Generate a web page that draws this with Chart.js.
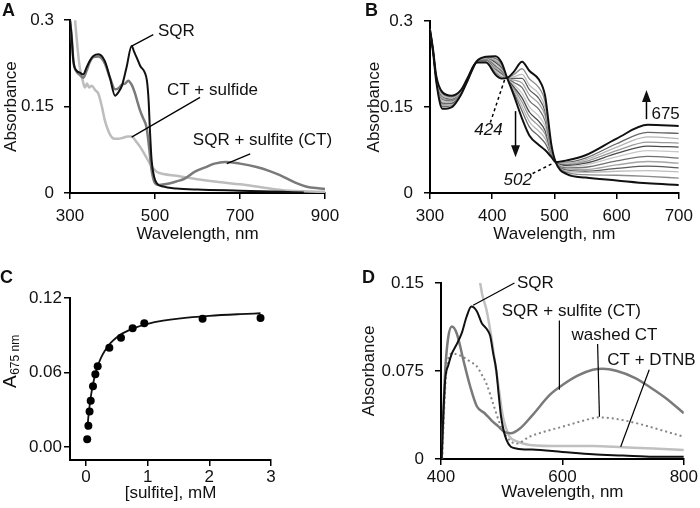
<!DOCTYPE html>
<html>
<head>
<meta charset="utf-8">
<script src="https://cdn.jsdelivr.net/npm/chart.js@4.4.1/dist/chart.umd.min.js"></script>
<style>
  html, body { margin: 0; padding: 0; background: #fff; }
  #wrap { position: relative; width: 700px; height: 508px; }
  canvas { position: absolute; }
</style>
</head>
<body>
<div id="wrap">
  <canvas id="chartA" width="350" height="254" style="left:0;top:0"></canvas>
  <canvas id="chartB" width="350" height="254" style="left:350px;top:0"></canvas>
  <canvas id="chartC" width="350" height="254" style="left:0;top:254px"></canvas>
  <canvas id="chartD" width="350" height="254" style="left:350px;top:254px"></canvas>
</div>
<script>
// -- DATA, panel A (spectra)
const wlA_sqr = [300, 304, 308, 316, 323, 331, 339, 347, 355, 367, 382, 394, 406, 414, 422, 433, 445, 451, 457, 465, 476, 481, 485, 488, 492, 498, 504, 520, 550, 600, 700, 800, 850];
const absA_sqr = [0.30, 0.27, 0.229, 0.212, 0.209, 0.206, 0.218, 0.230, 0.238, 0.241, 0.229, 0.200, 0.169, 0.175, 0.186, 0.218, 0.255, 0.245, 0.235, 0.221, 0.209, 0.195, 0.160, 0.110, 0.057, 0.028, 0.017, 0.011, 0.008, 0.006, 0.004, 0.002, 0.001];
const wlA_sulfite = [300, 304, 308, 316, 323, 331, 339, 347, 355, 367, 382, 394, 406, 414, 422, 430, 437, 445, 452, 460, 465, 472, 480, 486, 492, 500, 510, 530, 550, 570, 594, 620, 640, 665, 700, 739, 770, 794, 830, 857, 888, 900];
const absA_sulfite = [0.30, 0.27, 0.229, 0.210, 0.205, 0.200, 0.212, 0.228, 0.236, 0.237, 0.225, 0.200, 0.180, 0.182, 0.188, 0.190, 0.195, 0.188, 0.175, 0.155, 0.143, 0.130, 0.114, 0.080, 0.040, 0.017, 0.014, 0.016, 0.020, 0.025, 0.037, 0.045, 0.051, 0.054, 0.051, 0.045, 0.038, 0.031, 0.018, 0.011, 0.008, 0.007];
const wlA_sulfide = [312, 318, 323, 330, 335, 340, 345, 351, 360, 367, 375, 382, 390, 398, 406, 414, 425, 435, 445, 455, 465, 475, 488, 496, 504, 520, 550, 600, 650, 700, 750, 800, 850, 900];
const absA_sulfide = [0.300, 0.250, 0.218, 0.195, 0.183, 0.190, 0.183, 0.186, 0.178, 0.172, 0.150, 0.126, 0.108, 0.097, 0.094, 0.094, 0.096, 0.098, 0.098, 0.090, 0.080, 0.068, 0.051, 0.043, 0.037, 0.033, 0.030, 0.024, 0.019, 0.015, 0.010, 0.005, 0.003, 0.002];
const xTicksA = [300, 500, 700, 900];
const yTicksA = [0, 0.15, 0.3];
const yLabelsA = ['0', '0.15', '0.3'];

// -- DATA, panel B (sulfite titration, first = SQR, last = saturated)
const wlB = [300, 305, 310, 320, 335, 350, 360, 375, 390, 405, 415, 424, 435, 448, 460, 475, 485, 495, 502, 520, 550, 600, 650, 700];
const bS  = [0.285,0.250,0.205,0.176,0.170,0.180,0.200,0.228,0.228,0.207,0.200,0.201,0.212,0.229,0.213,0.198,0.170,0.085,0.054,0.033,0.027,0.022,0.017,0.014];
const b1  = [0.285,0.249,0.204,0.173,0.168,0.179,0.199,0.228,0.229,0.211,0.203,0.201,0.207,0.217,0.199,0.184,0.159,0.082,0.054,0.036,0.032,0.031,0.029,0.026];
const b2  = [0.285,0.249,0.203,0.170,0.166,0.178,0.199,0.228,0.230,0.214,0.206,0.201,0.203,0.207,0.188,0.173,0.149,0.080,0.054,0.038,0.036,0.038,0.039,0.037];
const b3  = [0.285,0.249,0.202,0.168,0.164,0.178,0.199,0.229,0.231,0.216,0.208,0.201,0.200,0.200,0.180,0.165,0.142,0.079,0.054,0.040,0.038,0.043,0.047,0.044];
const b4  = [0.285,0.248,0.201,0.165,0.163,0.177,0.198,0.229,0.232,0.219,0.210,0.201,0.197,0.192,0.171,0.156,0.135,0.077,0.054,0.042,0.041,0.049,0.055,0.052];
const b5  = [0.285,0.248,0.200,0.163,0.161,0.176,0.198,0.229,0.233,0.222,0.213,0.201,0.193,0.184,0.161,0.146,0.126,0.075,0.054,0.044,0.045,0.056,0.064,0.061];
const b6  = [0.285,0.247,0.199,0.160,0.159,0.176,0.197,0.229,0.234,0.225,0.216,0.201,0.189,0.174,0.150,0.134,0.117,0.073,0.054,0.046,0.049,0.063,0.074,0.072];
const b7  = [0.285,0.247,0.199,0.157,0.157,0.175,0.197,0.229,0.234,0.228,0.218,0.201,0.185,0.166,0.141,0.125,0.109,0.071,0.054,0.048,0.052,0.069,0.082,0.080];
const b8  = [0.285,0.246,0.198,0.155,0.156,0.174,0.196,0.229,0.235,0.230,0.220,0.201,0.182,0.159,0.133,0.117,0.103,0.069,0.054,0.050,0.055,0.074,0.089,0.087];
const b9  = [0.285,0.246,0.197,0.153,0.154,0.174,0.196,0.230,0.236,0.232,0.222,0.201,0.179,0.151,0.124,0.108,0.095,0.068,0.054,0.052,0.058,0.080,0.098,0.095];
const b10 = [0.285,0.246,0.196,0.151,0.153,0.173,0.196,0.230,0.237,0.235,0.224,0.201,0.176,0.143,0.115,0.099,0.087,0.066,0.054,0.054,0.061,0.086,0.106,0.104];
const bE  = [0.285,0.245,0.195,0.147,0.150,0.172,0.195,0.230,0.238,0.239,0.228,0.201,0.170,0.130,0.100,0.084,0.075,0.063,0.054,0.057,0.066,0.095,0.119,0.117];
const xTicksB = [300, 400, 500, 600, 700];
const yTicksB = [0, 0.15, 0.3];
const yLabelsB = ['0', '0.15', '0.3'];

// -- DATA, panel C (A675 vs sulfite)
const sulfite = [0.019, 0.038, 0.057, 0.076, 0.113, 0.151, 0.189, 0.378, 0.567, 0.756, 0.945, 1.89, 2.83];
const a675 = [0.0062, 0.017, 0.0285, 0.0373, 0.049, 0.0585, 0.065, 0.080, 0.088, 0.0956, 0.0996, 0.1033, 0.1039];
const fitX = [0.02, 0.04, 0.06, 0.08, 0.1, 0.13, 0.16, 0.2, 0.25, 0.3, 0.4, 0.5, 0.6, 0.8, 1.0, 1.25, 1.5, 2.0, 2.5, 2.83];
const fitY = [0.0142, 0.0252, 0.0340, 0.0412, 0.0472, 0.0545, 0.0604, 0.0666, 0.0725, 0.0771, 0.0838, 0.0884, 0.0917, 0.0962, 0.0992, 0.1017, 0.1034, 0.1056, 0.1070, 0.1077];
const xTicksC = [0, 1, 2, 3];
const yTicksC = [0, 0.06, 0.12];
const yLabelsC = ['0.00', '0.06', '0.12'];

// -- DATA, panel D
const wlD_sqr = [401, 404, 407, 412, 418, 425, 434, 442, 450, 459, 467, 475, 481, 486, 491, 495, 499, 508, 524, 550, 600, 650, 700, 750, 800];
const absD_sqr = [0, 0.040, 0.068, 0.080, 0.090, 0.097, 0.107, 0.121, 0.130, 0.126, 0.116, 0.111, 0.105, 0.090, 0.076, 0.055, 0.036, 0.016, 0.009, 0.008, 0.006, 0.004, 0.003, 0.002, 0.002];
const wlD_sulfite = [401, 404, 407, 412, 418, 426, 437, 448, 459, 472, 483, 494, 505, 515, 530, 550, 580, 600, 625, 650, 666, 690, 720, 745, 770, 800];
const absD_sulfite = [0, 0.040, 0.076, 0.104, 0.113, 0.107, 0.084, 0.062, 0.045, 0.039, 0.033, 0.028, 0.023, 0.022, 0.026, 0.037, 0.055, 0.063, 0.071, 0.076, 0.077, 0.075, 0.069, 0.061, 0.052, 0.039];
const wlD_washed = [402, 405, 408, 412, 418, 428, 436, 448, 459, 467, 475, 486, 497, 508, 524, 546, 575, 600, 630, 661, 690, 726, 760, 800];
const absD_washed = [0, 0.040, 0.070, 0.085, 0.090, 0.089, 0.087, 0.083, 0.079, 0.072, 0.064, 0.047, 0.030, 0.019, 0.013, 0.019, 0.024, 0.0275, 0.032, 0.0355, 0.034, 0.030, 0.025, 0.019];
const wlD_dtnb = [463, 468, 475, 481, 486, 490, 494, 502, 508, 513, 525, 546, 600, 650, 700, 750, 800];
const absD_dtnb = [0.155, 0.140, 0.127, 0.110, 0.093, 0.078, 0.0645, 0.036, 0.025, 0.019, 0.015, 0.012, 0.011, 0.011, 0.010, 0.009, 0.0077];
const xTicksD = [400, 600, 800];
const yTicksD = [0, 0.075, 0.15];
const yLabelsD = ['0', '0.075', '0.15'];

const FONT = '"Liberation Sans", Arial, Helvetica, sans-serif';
Chart.defaults.font.family = FONT;
Chart.defaults.font.size = 17;
Chart.defaults.color = '#111';

function pts(xs, ys) {
    return xs.map((x, i) => ({ x: x, y: ys[i] }));
}

function line(xs, ys, color, width, dash) {
    return {
        data: pts(xs, ys),
        borderColor: color,
        borderWidth: width,
        borderDash: dash || [],
        pointRadius: 0,
        fill: false,
        cubicInterpolationMode: 'monotone'
    };
}

function xAxis(min, max, ticks, labels, height, tickPad, title, titlePad) {
    return {
        type: 'linear', min: min, max: max,
        border: { display: true, color: '#000', width: 2 },
        grid: { drawOnChartArea: false, drawTicks: true, tickLength: 6, color: '#000', lineWidth: 1.5 },
        ticks: { padding: tickPad, color: '#111', maxRotation: 0, autoSkip: false, callback: (v, i) => labels[i] },
        afterBuildTicks: s => { s.ticks = ticks.map(v => ({ value: v })); },
        afterFit: s => { s.height = height; },
        title: { display: true, text: title, color: '#111', padding: { top: 0, bottom: titlePad } }
    };
}

function yAxis(min, max, ticks, labels, width, tickPad, title, titlePad) {
    return {
        type: 'linear', min: min, max: max,
        border: { display: true, color: '#000', width: 2 },
        grid: { drawOnChartArea: false, drawTicks: true, tickLength: 6, color: '#000', lineWidth: 1.5 },
        ticks: { padding: tickPad, color: '#111', autoSkip: false, callback: (v, i) => labels[i] },
        afterBuildTicks: s => { s.ticks = ticks.map(v => ({ value: v })); },
        afterFit: s => { s.width = width; },
        title: { display: !!title, text: title, color: '#111', padding: { top: titlePad, bottom: 0 } }
    };
}

// -- ANNOTATIONS (labels, leader lines, arrows) in data units
const annotate = {
    id: 'annotate',
    afterDatasetsDraw(chart, args, o) {
        const ctx = chart.ctx;
        const px = v => chart.scales.x.getPixelForValue(v);
        const py = v => chart.scales.y.getPixelForValue(v);
        ctx.save();
        ctx.fillStyle = '#111';
        ctx.strokeStyle = '#000';
        (o.lines || []).forEach(l => {
            ctx.beginPath();
            ctx.lineWidth = l.width || 1.2;
            ctx.setLineDash(l.dash || []);
            ctx.moveTo(px(l.from[0]), py(l.from[1]));
            ctx.lineTo(px(l.to[0]), py(l.to[1]));
            ctx.stroke();
        });
        ctx.setLineDash([]);
        (o.arrows || []).forEach(a => {
            const x = px(a.x), y1 = py(a.from), y2 = py(a.to);
            const dir = y2 > y1 ? 1 : -1;
            ctx.beginPath();
            ctx.lineWidth = 1.5;
            ctx.moveTo(x, y1);
            ctx.lineTo(x, y2 - dir * 10);
            ctx.stroke();
            ctx.beginPath();
            ctx.moveTo(x, y2);
            ctx.lineTo(x - 4.5, y2 - dir * 12);
            ctx.lineTo(x + 4.5, y2 - dir * 12);
            ctx.closePath();
            ctx.fill();
        });
        (o.texts || []).forEach(t => {
            ctx.font = (t.italic ? 'italic ' : '') + '17px ' + FONT;
            ctx.textAlign = t.align || 'left';
            ctx.textBaseline = 'middle';
            ctx.fillText(t.text, px(t.x), py(t.y));
        });
        if (o.letter) {
            ctx.font = 'bold 18px ' + FONT;
            ctx.textAlign = 'left';
            ctx.textBaseline = 'alphabetic';
            ctx.fillText(o.letter.text, o.letter.x, o.letter.y);
        }
        if (o.ytitle) {
            ctx.translate(o.ytitle.x, o.ytitle.y);
            ctx.rotate(-Math.PI / 2);
            ctx.textAlign = 'left';
            ctx.textBaseline = 'alphabetic';
            ctx.font = '19px ' + FONT;
            ctx.fillText(o.ytitle.main, 0, 0);
            const w = ctx.measureText(o.ytitle.main).width;
            ctx.font = '12px ' + FONT;
            ctx.fillText(o.ytitle.sub, w + 0.5, 3);
        }
        ctx.restore();
    }
};

function makeChart(id, datasets, scales, padding, notes) {
    return new Chart(document.getElementById(id), {
        type: 'line',
        data: { datasets: datasets },
        options: {
            responsive: false,
            animation: false,
            devicePixelRatio: 1,
            events: [],
            layout: { padding: padding },
            plugins: { legend: { display: false }, tooltip: { enabled: false }, annotate: notes },
            scales: scales
        },
        plugins: [annotate]
    });
}

// Panel A
makeChart('chartA', [
    line(wlA_sqr, absA_sqr, '#111', 2),
    line(wlA_sulfite, absA_sulfite, '#7a7a7a', 2.5),
    line(wlA_sulfide, absA_sulfide, '#bdbdbd', 2.5)
], {
    x: xAxis(300, 900, xTicksA, xTicksA.map(String), 61, 7, 'Wavelength, nm', 9),
    y: yAxis(0, 0.3, yTicksA, yLabelsA, 70, 10, 'Absorbance', 1)
}, { left: 0, top: 19, right: 25, bottom: 0 }, {
    letter: { text: 'A', x: 2, y: 16 },
    lines: [
        { from: [445, 0.255], to: [496, 0.275] },
        { from: [606, 0.166], to: [445, 0.097] },
        { from: [724, 0.068], to: [669, 0.051] }
    ],
    texts: [
        { text: 'SQR', x: 507, y: 0.281 },
        { text: 'CT + sulfide', x: 528, y: 0.178 },
        { text: 'SQR + sulfite (CT)', x: 589, y: 0.091 }
    ]
});

// Panel B
const bCurves = [b1, b2, b3, b4, b5, b6, b7, b8, b9, b10];
const bGrays = ['#8c8c8c', '#bdbdbd', '#5a5a5a', '#a5a5a5', '#707070', '#c8c8c8', '#4a4a4a', '#999999', '#b5b5b5', '#666666'];
makeChart('chartB', [
    line(wlB, bS, '#111', 2),
    line(wlB, bE, '#111', 2)
].concat(bCurves.map((c, i) => line(wlB, c, bGrays[i], 1.3))), {
    x: xAxis(300, 700, xTicksB, xTicksB.map(String), 61, 7, 'Wavelength, nm', 9),
    y: yAxis(0, 0.3, yTicksB, yLabelsB, 80, 11, 'Absorbance', 14)
}, { left: 0, top: 19, right: 15, bottom: 0 }, {
    letter: { text: 'B', x: 15, y: 16 },
    lines: [
        { from: [397, 0.123], to: [420, 0.198], dash: [3, 3], width: 1.5 },
        { from: [465, 0.034], to: [496, 0.051], dash: [3, 3], width: 1.5 }
    ],
    arrows: [
        { x: 437.5, from: 0.143, to: 0.0626 },
        { x: 648, from: 0.129, to: 0.18 }
    ],
    texts: [
        { text: '424', x: 394, y: 0.109, italic: true, align: 'center' },
        { text: '502', x: 441, y: 0.022, italic: true, align: 'center' },
        { text: '675', x: 656, y: 0.138 }
    ]
});

// Panel C
makeChart('chartC', [
    {
        data: pts(sulfite, a675), showLine: false, pointRadius: 4,
        pointBackgroundColor: '#000', pointBorderColor: '#000', pointBorderWidth: 0
    },
    line(fitX, fitY, '#111', 1.8)
], {
    x: xAxis(-0.26, 3, xTicksC, xTicksC.map(String), 48, 1, '[sulfite], mM', 4),
    y: yAxis(-0.0105, 0.12, yTicksC, yLabelsC, 70, 2, '', 0)
}, { left: 0, top: 44, right: 79, bottom: 0 }, {
    letter: { text: 'C', x: 0, y: 29 },
    ytitle: { main: 'A', sub: '675 nm', x: 16, y: 134 }
});

// Panel D
makeChart('chartD', [
    line(wlD_sqr, absD_sqr, '#111', 2),
    line(wlD_sulfite, absD_sulfite, '#7a7a7a', 2.5),
    line(wlD_washed, absD_washed, '#858585', 2, [2, 3]),
    line(wlD_dtnb, absD_dtnb, '#c0c0c0', 2.5)
], {
    x: xAxis(400, 800, xTicksD, xTicksD.map(String), 49, 2, 'Wavelength, nm', 5),
    y: yAxis(0, 0.15, yTicksD, yLabelsD, 91, 11, 'Absorbance', 9)
}, { left: 0, top: 29, right: 15, bottom: 0 }, {
    letter: { text: 'D', x: 12, y: 29 },
    lines: [
        { from: [453, 0.131], to: [521, 0.150] },
        { from: [595, 0.118], to: [595, 0.059] },
        { from: [658, 0.098], to: [661, 0.036] },
        { from: [743, 0.076], to: [696, 0.0105] }
    ],
    texts: [
        { text: 'SQR', x: 525, y: 0.150 },
        { text: 'SQR + sulfite (CT)', x: 500, y: 0.126 },
        { text: 'washed CT', x: 615, y: 0.105 },
        { text: 'CT + DTNB', x: 674, y: 0.084 }
    ]
});
</script>
</body>
</html>
